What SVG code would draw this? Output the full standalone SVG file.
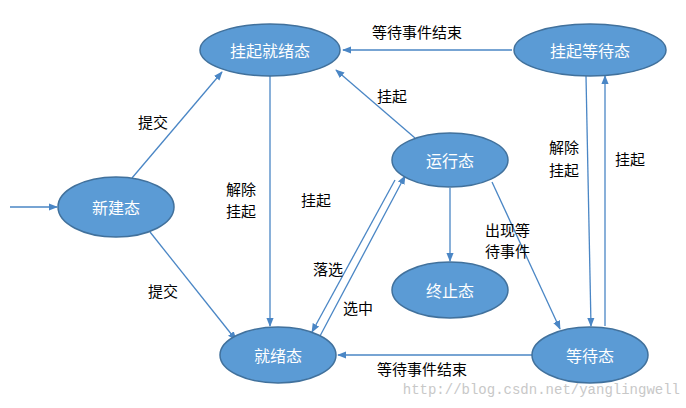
<svg xmlns="http://www.w3.org/2000/svg" width="686" height="408" viewBox="0 0 686 408">
<style>
.n ellipse{fill:#5B9BD5;stroke:#41719C;stroke-width:1.5}
.n text{fill:#fff;font-family:"Noto Sans CJK SC",sans-serif;font-size:16px;text-anchor:middle;dominant-baseline:central}
#edges line{stroke:#4A86C5;stroke-width:1.3;marker-end:url(#a)}
.l{fill:#000;font-family:"Noto Sans CJK SC",sans-serif;font-size:15px}
</style>
<defs><marker id="a" viewBox="0 0 10 10" refX="9" refY="5" markerWidth="7" markerHeight="7" orient="auto"><path d="M0,1 L10,5 L0,9 z" fill="#4A86C5"/></marker></defs>
<rect width="686" height="408" fill="#fff"/>
<g id="edges">
<line x1="10" y1="207" x2="57" y2="207"/>
<line x1="132" y1="178" x2="222" y2="72"/>
<line x1="150" y1="232" x2="236" y2="340"/>
<line x1="270" y1="76" x2="270" y2="326"/>
<line x1="415" y1="138" x2="336" y2="70"/>
<line x1="512" y1="50" x2="343" y2="50"/>
<line x1="450" y1="188" x2="450" y2="261"/>
<line x1="492" y1="182" x2="560" y2="329"/>
<line x1="320" y1="336" x2="405" y2="176"/>
<line x1="395" y1="180" x2="312" y2="332"/>
<line x1="532" y1="355" x2="338" y2="355"/>
<line x1="586" y1="76" x2="591" y2="326"/>
<line x1="605" y1="326" x2="605" y2="76"/>
</g>
<g id="n1" class="n"><ellipse cx="270" cy="50" rx="70" ry="26"/><text x="270" y="50">挂起就绪态</text></g>
<g id="n2" class="n"><ellipse cx="590" cy="50" rx="76" ry="26"/><text x="590" y="50">挂起等待态</text></g>
<g id="n3" class="n"><ellipse cx="116" cy="207" rx="58" ry="30"/><text x="116" y="207">新建态</text></g>
<g id="n4" class="n"><ellipse cx="450" cy="160" rx="58" ry="27"/><text x="450" y="160">运行态</text></g>
<g id="n5" class="n"><ellipse cx="450" cy="290" rx="58" ry="28"/><text x="450" y="290">终止态</text></g>
<g id="n6" class="n"><ellipse cx="278" cy="355" rx="58" ry="28"/><text x="278" y="355">就绪态</text></g>
<g id="n7" class="n"><ellipse cx="590" cy="355" rx="58" ry="28"/><text x="590" y="355">等待态</text></g>
<g id="labels">
<text class="l" x="138" y="128">提交</text>
<text class="l" x="148" y="297">提交</text>
<text class="l" x="226" y="195">解除</text>
<text class="l" x="226" y="217">挂起</text>
<text class="l" x="301" y="206">挂起</text>
<text class="l" x="377" y="102">挂起</text>
<text class="l" x="372" y="38">等待事件结束</text>
<text class="l" x="485" y="236">出现等</text>
<text class="l" x="485" y="257">待事件</text>
<text class="l" x="313" y="275">落选</text>
<text class="l" x="343" y="314">选中</text>
<text class="l" x="377" y="375">等待事件结束</text>
<text class="l" x="549" y="153">解除</text>
<text class="l" x="549" y="176">挂起</text>
<text class="l" x="615" y="165">挂起</text>
<text x="680" y="394" text-anchor="end" fill="#c8c8c8" font-family="Liberation Mono,monospace" font-size="14">http://blog.csdn.net/yanglingwell</text>
</g>
</svg>
